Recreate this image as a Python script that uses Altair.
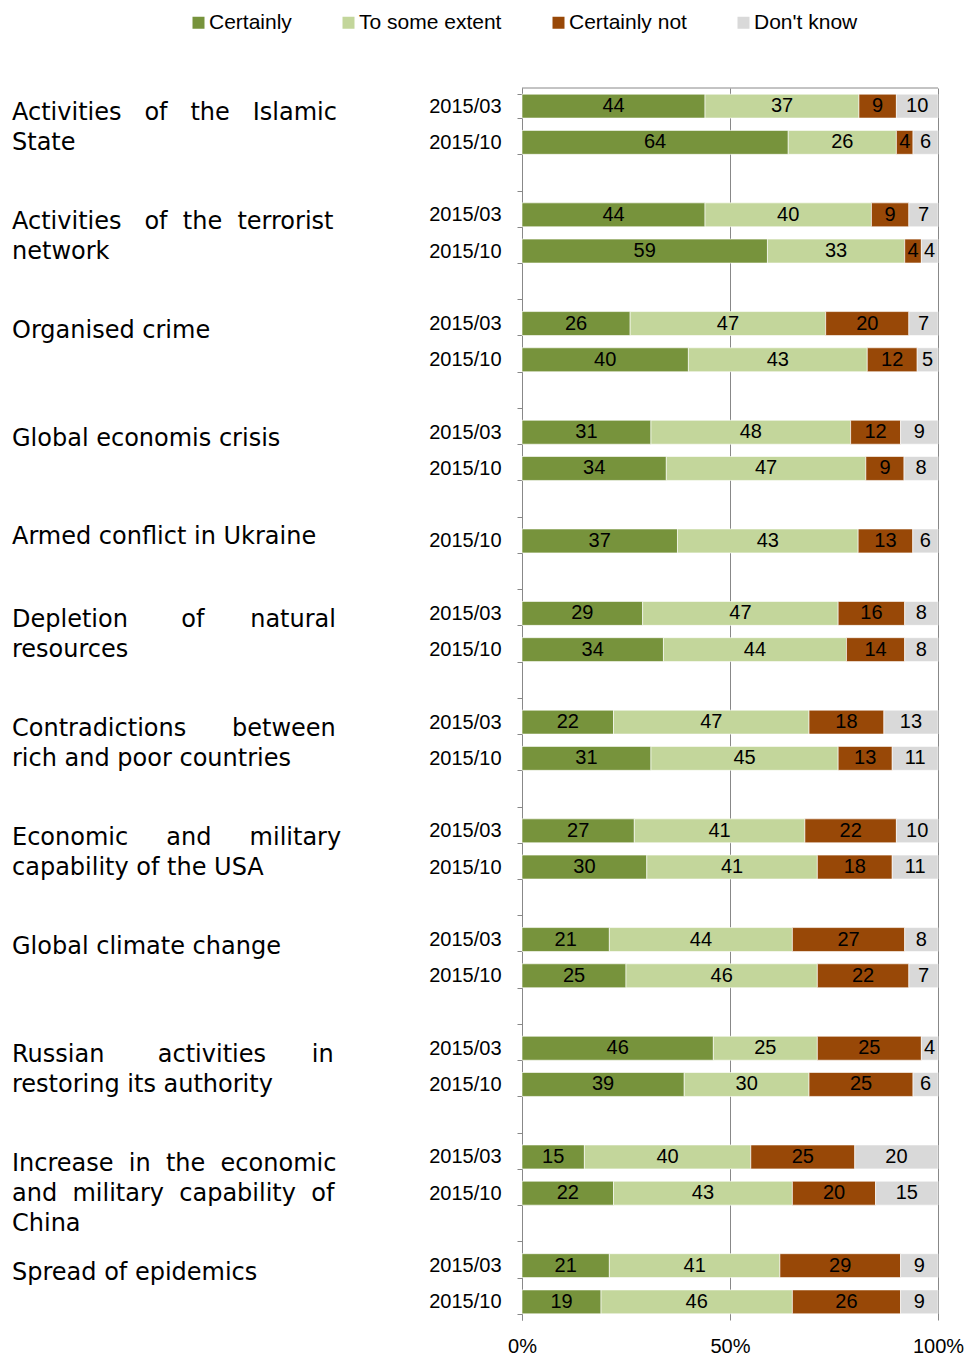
import altair as alt
import pandas as pd

categories = [
    "Activities of the Islamic State",
    "Activities of the terrorist network",
    "Organised crime",
    "Global economis crisis",
    "Armed conflict in Ukraine",
    "Depletion of natural resources",
    "Contradictions between rich and poor countries",
    "Economic and military capability of the USA",
    "Global climate change",
    "Russian activities in restoring its authority",
    "Increase in the economic and military capability of China",
    "Spread of epidemics",
]
# how each label is broken into lines (all but the last line are justified)
label_lines = [
    ["Activities of the Islamic", "State"],
    ["Activities of the terrorist", "network"],
    ["Organised crime"],
    ["Global economis crisis"],
    ["Armed conflict in Ukraine"],
    ["Depletion of natural", "resources"],
    ["Contradictions between", "rich and poor countries"],
    ["Economic and military", "capability of the USA"],
    ["Global climate change"],
    ["Russian activities in", "restoring its authority"],
    ["Increase in the economic", "and military capability of", "China"],
    ["Spread of epidemics"],
]
periods = ["2015/03", "2015/10"]
series = ["Certainly", "To some extent", "Certainly not", "Don't know"]
colors = ["#77933C", "#C3D69B", "#984807", "#D9D9D9"]

certainly_03 = [44, 44, 26, 31, None, 29, 22, 27, 21, 46, 15, 21]
some_03      = [37, 40, 47, 48, None, 47, 47, 41, 44, 25, 40, 41]
not_03       = [9, 9, 20, 12, None, 16, 18, 22, 27, 25, 25, 29]
dk_03        = [10, 7, 7, 9, None, 8, 13, 10, 8, 4, 20, 9]

certainly_10 = [64, 59, 40, 34, 37, 34, 31, 30, 25, 39, 22, 19]
some_10      = [26, 33, 43, 47, 43, 44, 45, 41, 46, 30, 43, 46]
not_10       = [4, 4, 12, 9, 13, 14, 13, 18, 22, 25, 20, 26]
dk_10        = [6, 4, 5, 8, 6, 8, 11, 11, 7, 6, 15, 9]

# ---- justification helper (DejaVu Sans advance widths, units per em = 2048) ----
ADV = {' ': 651, 'a': 1255, 'b': 1300, 'c': 1126, 'd': 1300, 'e': 1260, 'f': 721, 'g': 1300,
       'h': 1298, 'i': 569, 'k': 1186, 'l': 569, 'm': 1995, 'n': 1298, 'o': 1253, 'p': 1300,
       'r': 842, 's': 1067, 't': 803, 'u': 1298, 'v': 1212, 'w': 1675, 'y': 1212,
       'A': 1401, 'C': 1430, 'D': 1577, 'E': 1294, 'G': 1589, 'I': 604, 'R': 1423, 'S': 1300,
       'U': 1499, 'O': 1612}
CAT_FONT = 24
JUSTIFY_W = 326


def tw(s):
    return sum(ADV.get(ch, 1250) for ch in s) / 2048 * CAT_FONT


def justify(line):
    words = line.split(" ")
    gaps = len(words) - 1
    if gaps < 1:
        return line
    sp = ADV[' '] / 2048 * CAT_FONT
    n = max(gaps, round((JUSTIFY_W - sum(tw(w) for w in words)) / sp))
    out = words[0]
    for k in range(gaps):
        cnt = n // gaps + (1 if k < n % gaps else 0)
        out += "\u00a0" * cnt + words[k + 1]
    return out


bar_rows = []
domain = []
cat_two = []
cat_one = []
for i, cat in enumerate(categories):
    if i > 0:
        domain.append(f"blank{i}")
    vals = {
        "2015/03": [certainly_03[i], some_03[i], not_03[i], dk_03[i]],
        "2015/10": [certainly_10[i], some_10[i], not_10[i], dk_10[i]],
    }
    present = []
    for p in periods:
        v = vals[p]
        if v[0] is None:
            continue
        rid = f"{i}|{p}"
        domain.append(rid)
        present.append(rid)
        for k, s in enumerate(series):
            bar_rows.append({"row": rid, "series": s, "order": k, "value": v[k]})
    lines = label_lines[i]
    disp = "\n".join(justify(l) if j < len(lines) - 1 else l for j, l in enumerate(lines))
    rec = {"row": present[0], "label": disp}
    (cat_two if len(present) == 2 else cat_one).append(rec)

bars_df = pd.DataFrame(bar_rows)

LABEL_FONT = "Liberation Sans"
GRID = "#888888"
W, H = 416, 1232

yscale = alt.Scale(domain=domain, paddingInner=0.34, paddingOuter=0.17)

y_enc = alt.Y(
    "row:N",
    scale=yscale,
    axis=alt.Axis(
        title=None,
        labelExpr="isString(datum.value) && indexof(datum.value, '|') > 0 ? slice(datum.value, indexof(datum.value, '|') + 1) : ''",
        tickBand="extent",
        tickSize=5,
        tickColor=GRID,
        domainColor=GRID,
        labelFont=LABEL_FONT,
        labelFontSize=20,
        labelColor="black",
        labelPadding=16,
        grid=False,
    ),
)

bars = alt.Chart(bars_df).mark_bar(stroke="white", strokeWidth=0.6).encode(
    y=y_enc,
    x=alt.X(
        "value:Q",
        stack="normalize",
        scale=alt.Scale(domain=[0, 1], nice=False),
        axis=alt.Axis(
            title=None, format="%", values=[0, 0.5, 1], grid=True, gridColor=GRID,
            domain=False, ticks=False, labelFont=LABEL_FONT, labelFontSize=20,
            labelColor="black", labelPadding=16, labelFlush=False,
        ),
    ),
    order=alt.Order("order:Q", sort="ascending"),
    color=alt.Color(
        "series:N",
        scale=alt.Scale(domain=series, range=colors),
        legend=alt.Legend(
            title=None, orient="none", direction="horizontal", legendX=-334, legendY=-76,
            symbolType="square", symbolSize=144, symbolStrokeWidth=0,
            labelFont=LABEL_FONT, labelFontSize=21, labelColor="black",
            labelOffset=0, columnPadding=46,
        ),
    ),
)

nums = alt.Chart(bars_df).mark_text(
    font=LABEL_FONT, fontSize=20, color="black", baseline="middle", align="center"
).encode(
    y=alt.Y("row:N", scale=yscale),
    x=alt.X("value:Q", stack="normalize", bandPosition=0.5),
    order=alt.Order("order:Q", sort="ascending"),
    text=alt.Text("value:Q"),
)

top_rule = alt.Chart(pd.DataFrame({"k": [0]})).mark_rule(color=GRID, strokeWidth=1).encode(
    x=alt.value(0), x2=alt.value(W), y=alt.value(0)
)

cat_text_style = dict(font="DejaVu Sans", fontSize=CAT_FONT, color="black",
                      align="left", baseline="middle", lineHeight=30, lineBreak="\n")

cats_two = alt.Chart(pd.DataFrame(cat_two)).mark_text(dy=7, **cat_text_style).encode(
    y=alt.Y("row:N", scale=yscale), x=alt.value(-510), text="label:N"
)
cats_one = alt.Chart(pd.DataFrame(cat_one)).mark_text(dy=-4, **cat_text_style).encode(
    y=alt.Y("row:N", scale=yscale), x=alt.value(-510), text="label:N"
)

chart = alt.layer(bars, nums, top_rule, cats_two, cats_one).properties(
    width=W,
    height=H,
    padding={"left": 12, "top": 12, "right": 0, "bottom": 0},
    background="white",
).configure_view(stroke="transparent")

chart.save("out.html", embed_options={"renderer": "svg", "actions": False})
